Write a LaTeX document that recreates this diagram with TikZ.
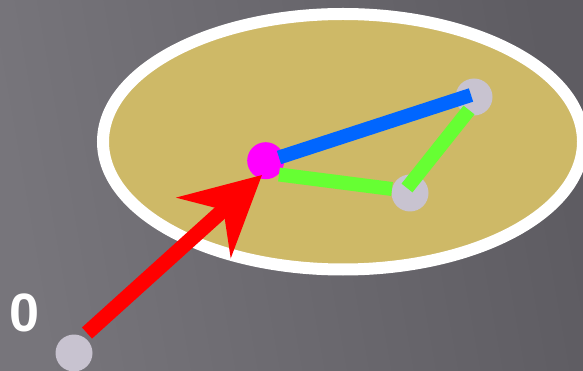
\documentclass[tikz,border=0pt]{standalone}
\usepackage{fontspec}
\setmainfont{Liberation Sans}
\usetikzlibrary{shapes.geometric,arrows.meta}
\definecolor{bgl}{HTML}{77757B}
\definecolor{bgr}{HTML}{5E5C62}
\definecolor{tan}{HTML}{CEB967}
\definecolor{dotgray}{HTML}{C8C3D0}
\definecolor{edgeblue}{HTML}{0066FF}
\definecolor{edgegreen}{HTML}{66FF33}
\definecolor{dotmag}{HTML}{FF00FF}
\definecolor{arrred}{HTML}{FF0000}
\tikzset{
  dot/.style={circle,fill=dotgray,minimum size=37pt,inner sep=0pt},
  edge/.style={line width=14pt,line cap=butt},
}
\begin{document}
\begin{tikzpicture}[x=1pt,y=-1pt]
\useasboundingbox (0,0) rectangle (583,371);
\shade[left color=bgl,right color=bgr,shading angle=100] (0,0) rectangle (583,371);
\node[ellipse,draw=white,line width=12pt,fill=tan,minimum width=480pt,minimum height=255.5pt,inner sep=0pt] (ell) at (343,141.75) {};
\node[dot] (a) at (474,97) {};
\node[dot] (b) at (410,193) {};
\node[dot] (c) at (74,353) {};
\node[circle,fill=dotmag,minimum size=37pt,inner sep=0pt] (m) at (265.7,160.7) {};
\coordinate (bs) at (279,157.5);
\coordinate (be) at (471,95);
\coordinate (g1s) at (279,174.5);
\coordinate (g1e) at (392,189);
\coordinate (g2s) at (407,188);
\coordinate (g2e) at (469,110);
\draw[edge,draw=edgeblue] (bs) -- (be);
\draw[edge,draw=edgegreen] (g1s) -- (g1e);
\draw[edge,draw=edgegreen] (g2s) -- (g2e);
\coordinate (rs) at (87,333);
\coordinate (rt) at (262,175);
\draw[arrred,line width=15pt,line cap=butt,-{Stealth[length=78pt,width=80pt,inset=26pt]}] (rs) -- (rt);
\node[text=white,font=\fontsize{54}{54}\selectfont\bfseries,inner sep=0pt] (lab) at (25,313) {0};
\end{tikzpicture}
\end{document}
